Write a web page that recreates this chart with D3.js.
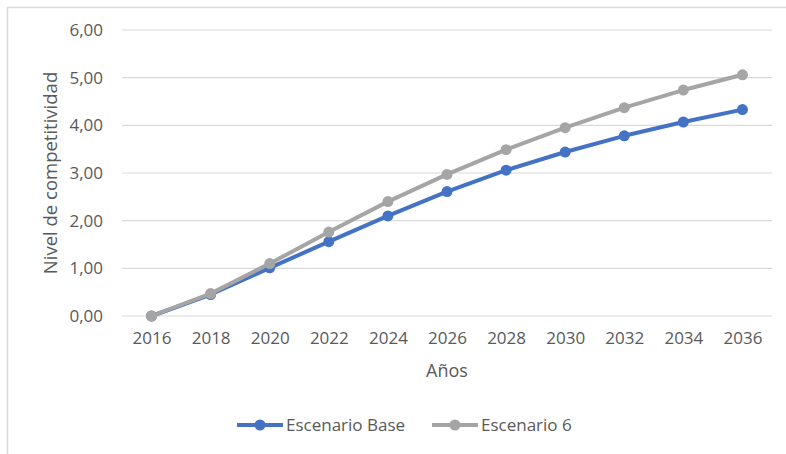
<!DOCTYPE html>
<html>
<head>
<meta charset="utf-8">
<script src="https://cdn.jsdelivr.net/npm/d3@7"></script>
<style>
  body { margin: 0; background: #fff; }
  text { font-family: "Open Sans", sans-serif; fill: #595959; }
</style>
</head>
<body>
<div id="chart"></div>
<script>
"use strict"

const years = ["2016", "2018", "2020", "2022", "2024", "2026", "2028", "2030", "2032", "2034", "2036"];
const escenarioBase = [0, 0.45, 1.01, 1.56, 2.10, 2.61, 3.06, 3.44, 3.78, 4.07, 4.33];
const escenario6 = [0, 0.47, 1.10, 1.76, 2.40, 2.97, 3.49, 3.95, 4.37, 4.74, 5.06];
const yTicks = [0, 1, 2, 3, 4, 5, 6];

const series = [
    { name: "Escenario Base", values: escenarioBase, color: "#4472C4" },
    { name: "Escenario 6", values: escenario6, color: "#A5A5A5" }
];

const width = 786;
const height = 454;
const plot = { left: 122, right: 772, top: 30, bottom: 316 };
const fontSize = 17;

const svg = d3.select("#chart").append("svg")
    .attr("width", width)
    .attr("height", height);

// chart frame
svg.append("rect")
    .attr("x", 7.5).attr("y", 7.5)
    .attr("width", width + 10).attr("height", height + 10)
    .attr("fill", "none")
    .attr("stroke", "#D9D9D9")
    .attr("stroke-width", 1.5);

//----------------------------SCALES----------------------------//
const xScale = d3.scalePoint().domain(years).range([plot.left, plot.right]).padding(0.5);
const yScale = d3.scaleLinear().domain([0, 6]).range([plot.bottom, plot.top]);

// gridlines
svg.append("g")
    .selectAll("line")
    .data(yTicks)
    .join("line")
    .attr("x1", plot.left).attr("x2", plot.right)
    .attr("y1", d => yScale(d)).attr("y2", d => yScale(d))
    .attr("stroke", "#D9D9D9")
    .attr("stroke-width", 1.2);

//-----------------------------AXES-----------------------------//
const fmt = d => d.toFixed(2).replace(".", ",");

const yaxis = d3.axisLeft(yScale).tickValues(yTicks).tickFormat(fmt).tickSize(0).tickPadding(19);
const yaxisEl = svg.append("g")
    .attr("transform", `translate(${plot.left},0)`)
    .call(yaxis);
yaxisEl.select(".domain").remove();
yaxisEl.selectAll("text").attr("font-size", fontSize).style("fill", "#595959");

const xaxis = d3.axisBottom(xScale).tickSize(0).tickPadding(16);
const xaxisEl = svg.append("g")
    .attr("transform", `translate(0,${plot.bottom})`)
    .call(xaxis);
xaxisEl.select(".domain").remove();
xaxisEl.selectAll("text").attr("font-size", fontSize).style("fill", "#595959");

// axis titles
svg.append("text")
    .attr("x", (plot.left + plot.right) / 2)
    .attr("y", 377)
    .attr("text-anchor", "middle")
    .attr("font-size", 18)
    .text("Años");

svg.append("text")
    .attr("transform", `translate(57,${(plot.top + plot.bottom) / 2}) rotate(-90)`)
    .attr("text-anchor", "middle")
    .attr("font-size", 18.5)
    .text("Nivel de competitividad");

//-----------------------------LINES----------------------------//
const line = d3.line()
    .x((d, i) => xScale(years[i]))
    .y(d => yScale(d));

series.forEach(s => {
    svg.append("path")
        .datum(s.values)
        .attr("d", line)
        .attr("fill", "none")
        .attr("stroke", s.color)
        .attr("stroke-width", 4)
        .attr("stroke-linejoin", "round");
    svg.append("g")
        .selectAll("circle")
        .data(s.values)
        .join("circle")
        .attr("cx", (d, i) => xScale(years[i]))
        .attr("cy", d => yScale(d))
        .attr("r", 5.5)
        .attr("fill", s.color);
});

//----------------------------LEGEND----------------------------//
const legendX = [237, 432];
const legendY = 425;
series.forEach((s, i) => {
    const g = svg.append("g").attr("transform", `translate(${legendX[i]},${legendY})`);
    g.append("line")
        .attr("x1", 0).attr("x2", 46)
        .attr("stroke", s.color).attr("stroke-width", 4);
    g.append("circle").attr("cx", 23).attr("r", 5.5).attr("fill", s.color);
    g.append("text")
        .attr("x", 49).attr("y", 0)
        .attr("dy", "0.35em")
        .attr("font-size", fontSize)
        .text(s.name);
});
</script>
</body>
</html>
